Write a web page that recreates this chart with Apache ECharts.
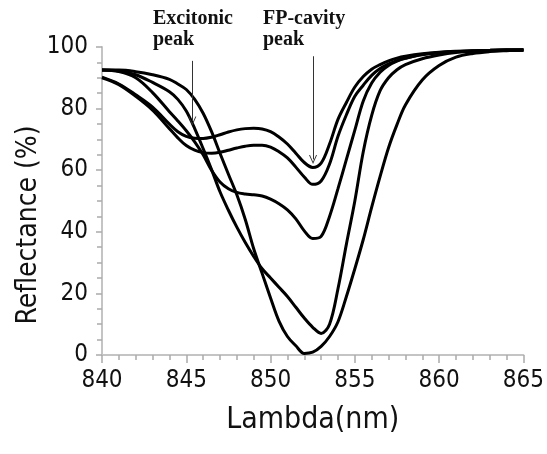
<!DOCTYPE html>
<html>
<head>
<meta charset="utf-8">
<script src="https://cdn.jsdelivr.net/npm/echarts@6/dist/echarts.min.js"></script>
<style>
html,body{margin:0;padding:0;background:#fff;}
#chart{width:547px;height:454px;}
</style>
</head>
<body>
<div id="chart"></div>
<script>
// wavelength samples (nm)
var lambda = [840,841,842,843,844,844.5,845,845.5,846,846.5,847,847.5,848,848.5,849,849.5,850,850.5,851,851.5,852,852.5,853,853.5,854,854.5,855,855.5,856,856.5,857,857.5,858,859,860,861,862,863,864,865];
// reflectance curves (%)
var curveA = [90.2,88,84.5,80.5,75,72.5,71,70.4,70.3,70.7,71.5,72.4,73.1,73.5,73.6,73.4,72.5,70.8,68.5,65.5,62.5,60.9,62.3,68.5,76.5,82,87,90.4,92.8,94.3,95.5,96.4,97,97.8,98.3,98.6,98.8,98.9,99,99];
var curveB = [90,87.8,84,79.5,73.5,70.5,68,66.5,65.7,65.5,65.8,66.5,67.2,67.8,68.1,68.1,67.5,66,64,61,57.8,55.4,56.5,62,71,78,84,87.6,90.8,93,94.5,95.6,96.4,97.5,98.1,98.5,98.7,98.9,99,99];
var curveC = [92.5,92,90,85.2,79,76,72.8,69.2,65,60,56.2,54,52.8,52.3,52,51.6,50.6,49.1,47.1,44.2,40.3,37.8,38.5,45,54,63.5,73,82.5,88.3,91.8,94,95.4,96.3,97.6,98.2,98.5,98.7,98.9,99,99];
var curveD = [92.5,92.2,91,88.5,85.5,83,79.2,73.5,67,60.2,53,47,41.5,36.5,32,28,25,22,19,15.5,12,9,7,10,21.5,36,50,66,77.8,85.8,90,92.6,94.3,96.2,97.4,98.2,98.6,98.9,99,99];
var curveE = [92.5,92.5,92,91,89.5,88,86.2,83,78.5,72.5,65.5,58.7,52,44,34.5,26.5,18.5,11,6,3,0.5,0.9,2.8,6,10.8,19,28,37.5,48,58,67.3,74.8,81.2,89.3,94,96.7,97.9,98.5,98.8,99];
// axis ticks
var xMin = 840, xMax = 865, xStep = 5;
var yMin = 0, yMax = 100, yStep = 20;
// annotations
var noteTexts = ['Excitonic\npeak', 'FP-cavity\npeak'];
var arrowExc = [[845.36, 95.5], [845.36, 76]];
var arrowFP = [[852.52, 97], [852.52, 63.5]];

var chevron = 'path://M5,0 L10,9 L8.8,9 L5,2.2 L1.2,9 L0,9 Z';
var FONT = "'DejaVu Sans Condensed','DejaVu Sans',sans-serif";

function mk(arr){ return lambda.map(function(x,i){ return [x, arr[i]]; }); }
var curves = [curveA, curveB, curveC, curveD, curveE];
var series = curves.map(function(c, idx){
  var s = {
    type: 'line', data: mk(c), showSymbol: false, symbol: 'none',
    smooth: 0.35,
    lineStyle: {color: '#000', width: 3}, itemStyle: {color:'#000'},
    silent: true, animation: false, z: 3
  };
  if (idx === 0) {
    s.markLine = {
      silent: true, animation: false,
      symbol: ['none', chevron], symbolSize: [8, 9],
      lineStyle: {color: '#333', width: 1, type: 'solid'},
      label: {show: false},
      data: [
        [{coord: arrowExc[0]}, {coord: arrowExc[1]}],
        [{coord: arrowFP[0]}, {coord: arrowFP[1]}]
      ]
    };
  }
  return s;
});

var chart = echarts.init(document.getElementById('chart'), null, {renderer: 'canvas'});
chart.setOption({
  animation: false,
  backgroundColor: '#fff',
  grid: {left: 102, right: 22, top: 47, bottom: 99, containLabel: false},
  xAxis: {
    type: 'value', min: xMin, max: xMax, interval: xStep,
    axisLine: {show: true, lineStyle: {color: '#c4c4c4', width: 2}},
    axisTick: {show: true, length: 8, lineStyle: {color: '#aaa', width: 1.5}},
    minorTick: {show: true, splitNumber: 5, length: 5, lineStyle: {color: '#aaa', width: 1.5}},
    splitLine: {show: false},
    axisLabel: {color: '#111', fontSize: 24, fontFamily: FONT, margin: 14},
    name: 'Lambda(nm)', nameLocation: 'middle', nameGap: 50,
    nameTextStyle: {color: '#111', fontSize: 30, fontFamily: FONT}
  },
  yAxis: {
    type: 'value', min: yMin, max: yMax, interval: yStep,
    axisLine: {show: true, lineStyle: {color: '#c4c4c4', width: 2}},
    axisTick: {show: true, length: 6, lineStyle: {color: '#aaa', width: 1.5}},
    minorTick: {show: true, splitNumber: 4, length: 5, lineStyle: {color: '#aaa', width: 1.5}},
    splitLine: {show: false},
    axisLabel: {color: '#111', fontSize: 24, fontFamily: FONT, margin: 14}
  },
  graphic: [
    {type: 'text', x: 29, y: 225, rotation: Math.PI/2,
     style: {text: 'Reflectance (%)', x: 0, y: 0, align: 'center', verticalAlign: 'middle', textAlign: 'center', textVerticalAlign: 'middle', fill: '#111', font: "28px " + FONT}},
    {type: 'text', x: 153, y: 8,
     style: {text: noteTexts[0], x: 0, y: 0, align: 'left', verticalAlign: 'top', fill: '#111', font: "bold 20px 'Liberation Serif','Times New Roman',serif", lineHeight: 21}},
    {type: 'text', x: 263, y: 8,
     style: {text: noteTexts[1], x: 0, y: 0, align: 'left', verticalAlign: 'top', fill: '#111', font: "bold 20px 'Liberation Serif','Times New Roman',serif", lineHeight: 21}}
  ],
  series: series
});
</script>
</body>
</html>
